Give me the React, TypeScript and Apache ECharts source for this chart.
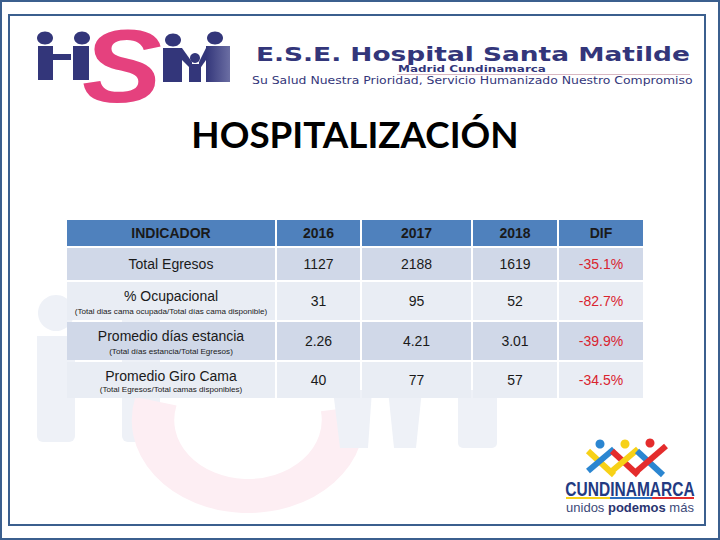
import React, { useEffect, useRef } from 'react';
import * as echarts from 'echarts';

// ---- data ----
const headers = ['INDICADOR', '2016', '2017', '2018', 'DIF'];
const indicators = ['Total Egresos', '% Ocupacional', 'Promedio días estancia', 'Promedio Giro Cama'];
const notes = [
  '',
  '(Total dias cama ocupada/Total días cama disponible)',
  '(Total días estancia/Total Egresos)',
  '(Total Egresos/Total camas disponibles)',
];
const values2016 = ['1127', '31', '2.26', '40'];
const values2017 = ['2188', '95', '4.21', '77'];
const values2018 = ['1619', '52', '3.01', '57'];
const difPct = [-35.1, -82.7, -39.9, -34.5];

// ---- layout (pixels) ----
const colEdges = [[67, 275], [277, 360], [362, 471], [473, 557], [559, 643]];
const rowEdges = [[220, 246], [248, 280], [282, 320], [322, 360], [362, 398]];

const FONT = 'Liberation Sans, Arial, sans-serif';
const NAVY = '#33367a';
const PINK = '#e5417e';
const FRAME = '#3b5f8e';

function cellValue(c: number, r: number): string {
  if (r === 0) return headers[c];
  const i = r - 1;
  if (c === 0) return indicators[i];
  if (c === 1) return values2016[i];
  if (c === 2) return values2017[i];
  if (c === 3) return values2018[i];
  return difPct[i].toFixed(1) + '%';
}

const cells: number[][] = [];
for (let r = 0; r < rowEdges.length; r++) {
  for (let c = 0; c < colEdges.length; c++) cells.push([c, r]);
}

export default function App() {
  const ref = useRef<HTMLDivElement>(null);
  useEffect(() => {
    if (!ref.current) return;
    const chart = echarts.init(ref.current, null, { renderer: 'svg' });

    const wmBlue = '#eef1f7';
    const wmPink = '#fdeef3';

    const graphic: any[] = [
      // frames
      { type: 'rect', z: 1, shape: { x: 1, y: 1, width: 718, height: 538 }, style: { fill: '#ffffff', stroke: FRAME, lineWidth: 2 } },
      { type: 'rect', z: 1, shape: { x: 9, y: 15, width: 696, height: 510 }, style: { fill: 'none', stroke: FRAME, lineWidth: 2 } },
      // watermark
      { type: 'circle', z: 2, shape: { cx: 56, cy: 313, r: 18 }, style: { fill: wmBlue } },
      { type: 'rect', z: 2, shape: { x: 37, y: 336, width: 38, height: 106, r: [0, 0, 6, 6] }, style: { fill: wmBlue } },
      { type: 'rect', z: 2, shape: { x: 122, y: 300, width: 38, height: 142, r: [0, 0, 6, 6] }, style: { fill: wmBlue } },
      {
        type: 'arc', z: 2, x: 248, y: 420, scaleX: 1.25,
        shape: { cx: 0, cy: 0, r: 76, startAngle: -0.15, endAngle: Math.PI + 0.25 },
        style: { stroke: wmPink, lineWidth: 34, fill: 'none' },
      },
      { type: 'polygon', z: 2, shape: { points: [[333, 390], [372, 390], [368, 448], [340, 448]] }, style: { fill: wmBlue } },
      { type: 'polygon', z: 2, shape: { points: [[388, 390], [422, 390], [416, 448], [394, 448]] }, style: { fill: wmBlue } },
      { type: 'rect', z: 2, shape: { x: 458, y: 390, width: 39, height: 58, r: [0, 0, 5, 5] }, style: { fill: wmBlue } },

      // HSM logo
      { type: 'ellipse', z: 3, shape: { cx: 45, cy: 38, rx: 8, ry: 6.5 }, style: { fill: NAVY } },
      { type: 'rect', z: 3, shape: { x: 38, y: 46, width: 15, height: 34 }, style: { fill: NAVY } },
      { type: 'rect', z: 3, shape: { x: 53, y: 54, width: 18, height: 6 }, style: { fill: NAVY } },
      { type: 'ellipse', z: 3, shape: { cx: 82, cy: 38, rx: 8, ry: 6.5 }, style: { fill: NAVY } },
      { type: 'rect', z: 3, shape: { x: 73, y: 46, width: 16, height: 34 }, style: { fill: NAVY } },
      { type: 'ellipse', z: 3, shape: { cx: 173, cy: 40, rx: 8, ry: 6.5 }, style: { fill: NAVY } },
      { type: 'rect', z: 3, shape: { x: 163, y: 48, width: 19, height: 34 }, style: { fill: NAVY } },
      { type: 'polygon', z: 3, shape: { points: [[182, 48], [192, 62], [192, 70], [182, 60]] }, style: { fill: NAVY } },
      { type: 'circle', z: 3, shape: { cx: 195, cy: 58, r: 5 }, style: { fill: NAVY } },
      { type: 'rect', z: 3, shape: { x: 189, y: 64, width: 12, height: 18 }, style: { fill: NAVY } },
      { type: 'polygon', z: 3, shape: { points: [[206, 48], [199, 62], [199, 70], [206, 60]] }, style: { fill: NAVY } },
      { type: 'ellipse', z: 3, shape: { cx: 215, cy: 38, rx: 8, ry: 6.5 }, style: { fill: NAVY } },
      {
        type: 'rect', z: 3, shape: { x: 206, y: 46, width: 24, height: 36 },
        style: { fill: new echarts.graphic.LinearGradient(0, 0, 1, 0, [{ offset: 0, color: NAVY }, { offset: 1, color: '#6b6ea3' }]) },
      },
      {
        type: 'text', z: 4, x: 122, y: 66, scaleX: 1.15,
        style: { text: 'S', fill: PINK, font: 'italic bold 104px ' + FONT, align: 'center', verticalAlign: 'middle' },
      },

      // header texts
      { type: 'text', z: 3, x: 256, y: 54.5, scaleX: 1.39, style: { text: 'E.S.E. Hospital Santa Matilde', fill: NAVY, font: 'bold 19px DejaVu Sans', verticalAlign: 'middle' } },
      { type: 'text', z: 3, x: 472, y: 69, scaleX: 1.33, style: { text: 'Madrid Cundinamarca', fill: NAVY, font: 'bold 9px DejaVu Sans', align: 'center', verticalAlign: 'middle' } },
      { type: 'line', z: 3, shape: { x1: 397, y1: 74.5, x2: 690, y2: 74.5 }, style: { stroke: '#d9b8c2', lineWidth: 1 } },
      { type: 'text', z: 3, x: 252, y: 80, scaleX: 1.185, style: { text: 'Su Salud Nuestra Prioridad, Servicio Humanizado Nuestro Compromiso', fill: NAVY, font: '10.5px DejaVu Sans', verticalAlign: 'middle' } },

      // title
      { type: 'text', z: 3, x: 355, y: 134, style: { text: 'HOSPITALIZACIÓN', fill: '#000000', font: 'bold 36.8px Lato', align: 'center', verticalAlign: 'middle' } },

      // Cundinamarca logo figures
      { type: 'line', z: 3, shape: { x1: 588, y1: 451, x2: 614, y2: 475 }, style: { stroke: '#f7d117', lineWidth: 6 } },
      { type: 'line', z: 3, shape: { x1: 588, y1: 471, x2: 614, y2: 449 }, style: { stroke: '#2b86d1', lineWidth: 6 } },
      { type: 'line', z: 3, shape: { x1: 612, y1: 451, x2: 638, y2: 475 }, style: { stroke: '#e42c2c', lineWidth: 6 } },
      { type: 'line', z: 3, shape: { x1: 612, y1: 471, x2: 638, y2: 449 }, style: { stroke: '#f7d117', lineWidth: 6 } },
      { type: 'line', z: 3, shape: { x1: 637, y1: 451, x2: 663, y2: 475 }, style: { stroke: '#2b86d1', lineWidth: 6 } },
      { type: 'line', z: 3, shape: { x1: 637, y1: 471, x2: 666, y2: 446 }, style: { stroke: '#e42c2c', lineWidth: 6 } },
      { type: 'circle', z: 3, shape: { cx: 600, cy: 444, r: 4.5 }, style: { fill: '#2b86d1' } },
      { type: 'circle', z: 3, shape: { cx: 625, cy: 444, r: 4.5 }, style: { fill: '#f7d117' } },
      { type: 'circle', z: 3, shape: { cx: 650, cy: 443, r: 4.5 }, style: { fill: '#e42c2c' } },
      {
        type: 'text', z: 3, x: 630, y: 489, scaleX: 0.74,
        style: { text: 'CUNDINAMARCA', fill: '#233a82', font: 'bold 21px ' + FONT, align: 'center', verticalAlign: 'middle' },
      },
      { type: 'rect', z: 3, shape: { x: 566, y: 497, width: 44, height: 2 }, style: { fill: '#f7d117' } },
      { type: 'rect', z: 3, shape: { x: 610, y: 497, width: 42, height: 2 }, style: { fill: '#2b6fc0' } },
      { type: 'rect', z: 3, shape: { x: 652, y: 497, width: 42, height: 2 }, style: { fill: '#e42c2c' } },
      {
        type: 'text', z: 3, x: 630, y: 507,
        style: {
          text: '{a|unidos }{b|podemos}{a| más}', align: 'center', verticalAlign: 'middle',
          rich: {
            a: { fontFamily: FONT, fontSize: 13, fill: '#3d4a78', color: '#3d4a78' },
            b: { fontFamily: FONT, fontSize: 13, fontWeight: 'bold', fill: '#2a3470', color: '#2a3470' },
          },
        },
      },
    ];

    chart.setOption({
      animation: false,
      backgroundColor: '#ffffff',
      graphic,
      series: [
        {
          type: 'custom',
          coordinateSystem: 'none',
          z: 10,
          data: cells,
          renderItem: (params: any, api: any) => {
            const c = api.value(0) as number;
            const r = api.value(1) as number;
            const [x0, x1] = colEdges[c];
            const [y0, y1] = rowEdges[r];
            const fill = r === 0 ? '#4f81bd' : r % 2 === 1 ? '#d0d8e8' : '#e9edf4';
            const cx = (x0 + x1) / 2;
            const children: any[] = [
              { type: 'rect', shape: { x: x0, y: y0, width: x1 - x0, height: y1 - y0 }, style: { fill } },
            ];
            const txt = cellValue(c, r);
            const note = r > 0 && c === 0 ? notes[r - 1] : '';
            let ty = (y0 + y1) / 2;
            if (note) ty = y0 + 14;
            const color = r > 0 && c === 4 ? '#d9242f' : '#1a1a1a';
            children.push({
              type: 'text',
              style: {
                text: txt, x: cx, y: ty, align: 'center', verticalAlign: 'middle',
                font: (r === 0 ? 'bold ' : '') + '14px ' + FONT, fill: color,
              },
            });
            if (note) {
              children.push({
                type: 'text',
                style: {
                  text: note, x: cx, y: y1 - 8.5, align: 'center', verticalAlign: 'middle',
                  font: '8.1px ' + FONT, fill: '#1a1a1a',
                },
              });
            }
            return { type: 'group', children };
          },
        },
      ],
    });
    return () => chart.dispose();
  }, []);
  return <div ref={ref} style={{ position: 'absolute', left: 0, top: 0, width: 720, height: 540 }} />;
}
